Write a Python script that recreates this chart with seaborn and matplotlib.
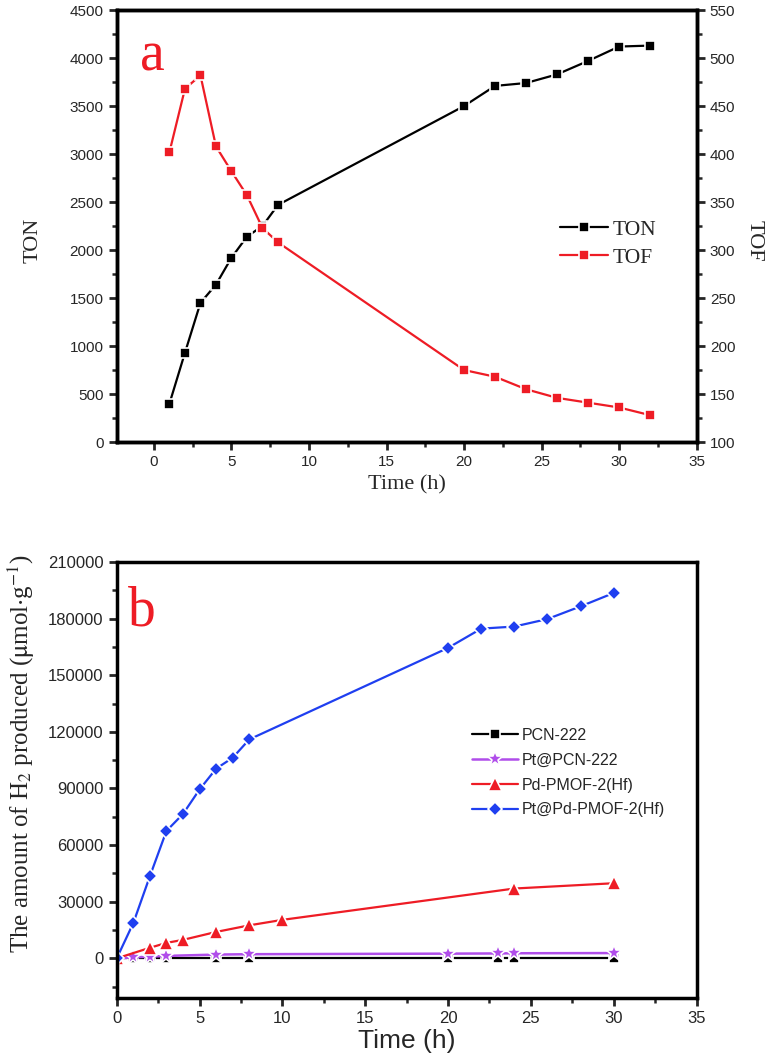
import numpy as np
import matplotlib
matplotlib.use("Agg")
import matplotlib.pyplot as plt
import seaborn as sns
from matplotlib.ticker import MultipleLocator

# panel a data
time_a = [1, 2, 3, 4, 5, 6, 7, 8, 20, 22, 24, 26, 28, 30, 32]
ton = [400, 930, 1450, 1640, 1920, 2140, 2250, 2470, 3500, 3710, 3740, 3830, 3970, 4120, 4130]
tof = [402, 468, 482, 408, 382, 357, 323, 308, 175, 168, 155, 146, 141, 136, 128]

# panel b data
time_pcn = [0, 1, 2, 3, 6, 8, 20, 23, 24, 30]
pcn222 = [0, 0, 0, 0, 0, 0, 0, 0, 0, 0]
pt_pcn222 = [0, 500, 900, 1300, 2000, 2200, 2500, 2600, 2700, 2800]
time_pd = [0, 2, 3, 4, 6, 8, 10, 24, 30]
pd_pmof = [0, 5600, 8200, 9800, 14000, 17500, 20400, 37000, 39800]
time_ptpd = [0, 1, 2, 3, 4, 5, 6, 7, 8, 20, 22, 24, 26, 28, 30]
pt_pd_pmof = [0, 18700, 43500, 67500, 76500, 89500, 100500, 106300, 116000,
              164500, 174700, 175800, 179800, 186500, 193600]

sns.set_style("ticks")
plt.rcParams['font.family'] = ['Liberation Sans', 'DejaVu Sans']
plt.rcParams['mathtext.fontset'] = 'stix'

fig = plt.figure(figsize=(7.68, 10.6), dpi=100)
ax1 = fig.add_axes([0.152, 0.583, 0.755, 0.4075])
ax2 = fig.add_axes([0.152, 0.0585, 0.755, 0.4113])


def style_axis(ax, size):
    for sp in ax.spines.values():
        sp.set_linewidth(2.5)
        sp.set_color("black")
    ax.tick_params(which="major", direction="out", length=6, width=2, labelsize=size)
    ax.tick_params(which="minor", direction="out", length=3.5, width=1.8)


# white marker edge gives the small gap between line and marker
mk = dict(markeredgecolor="white", markeredgewidth=1.2)

# ---- panel a ----
sns.lineplot(x=time_a, y=ton, ax=ax1, color="black", marker="s", markersize=7.5,
             linewidth=1.6, label="TON", legend=False, **mk)
ax1r = ax1.twinx()
sns.lineplot(x=time_a, y=tof, ax=ax1r, color="#ee1c25", marker="s", markersize=7.5,
             linewidth=1.6, label="TOF", legend=False, **mk)

ax1.set_xlim(-2.4, 35)
ax1.set_ylim(0, 4500)
ax1r.set_ylim(100, 550)
ax1.xaxis.set_major_locator(MultipleLocator(5))
ax1.xaxis.set_minor_locator(MultipleLocator(2.5))
ax1.yaxis.set_major_locator(MultipleLocator(500))
ax1.yaxis.set_minor_locator(MultipleLocator(250))
ax1r.yaxis.set_major_locator(MultipleLocator(50))
ax1r.yaxis.set_minor_locator(MultipleLocator(25))
style_axis(ax1, 11)
style_axis(ax1r, 11)
ax1.set_xlabel("Time (h)", family="Liberation Serif", fontsize=16, labelpad=4)
ax1.set_ylabel("TON", family="Liberation Serif", fontsize=16)
ax1.yaxis.set_label_coords(-0.128, 0.466)
ax1r.set_ylabel("TOF", family="Liberation Serif", fontsize=16, rotation=270, va="center")
ax1r.yaxis.set_label_coords(1.10, 0.466)
ax1.text(0.04, 0.86, "a", transform=ax1.transAxes, color="#ee1c25",
         family="Liberation Serif", fontsize=40, va="baseline")

h1, l1 = ax1.get_legend_handles_labels()
h2, l2 = ax1r.get_legend_handles_labels()
ax1r.legend(h1 + h2, l1 + l2, loc="center left", bbox_to_anchor=(0.765, 0.459),
            frameon=False, numpoints=1, handlelength=2.2, handletextpad=0.25,
            labelspacing=0.35, borderpad=0, borderaxespad=0,
            prop={"family": "Liberation Serif", "size": 15.5})

# ---- panel b ----
sns.lineplot(x=time_pcn, y=pcn222, ax=ax2, color="black", marker="s", markersize=7.5,
             linewidth=1.6, label="PCN-222", **mk)
sns.lineplot(x=time_pcn, y=pt_pcn222, ax=ax2, color="#b04dea", marker="*", markersize=12,
             linewidth=1.8, label="Pt@PCN-222", **mk)
sns.lineplot(x=time_pd, y=pd_pmof, ax=ax2, color="#ee1c25", marker="^", markersize=10,
             linewidth=1.6, label="Pd-PMOF-2(Hf)", **mk)
sns.lineplot(x=time_ptpd, y=pt_pd_pmof, ax=ax2, color="#1f3ff0", marker="D", markersize=7.5,
             linewidth=1.6, label="Pt@Pd-PMOF-2(Hf)", **mk)

ax2.set_xlim(0, 35)
ax2.set_ylim(-21000, 210000)
ax2.xaxis.set_major_locator(MultipleLocator(5))
ax2.xaxis.set_minor_locator(MultipleLocator(2.5))
ax2.yaxis.set_major_locator(MultipleLocator(30000))
ax2.yaxis.set_minor_locator(MultipleLocator(15000))
ax2.set_yticks(np.arange(0, 210001, 30000))
style_axis(ax2, 12)
ax2.set_xlabel("Time (h)", fontsize=19, labelpad=2)
ax2.set_ylabel(r"The amount of H$_2$ produced ($\mathrm{\mu}$mol$\cdot$g$^{-1}$)",
               family="Liberation Serif", fontsize=18)
ax2.yaxis.set_label_coords(-0.138, 0.56)
ax2.text(0.019, 0.855, "b", transform=ax2.transAxes, color="#ee1c25",
         family="Liberation Serif", fontsize=40, va="baseline")
ax2.legend(loc="center left", bbox_to_anchor=(0.612, 0.517), frameon=False, numpoints=1,
           handlelength=2.9, handletextpad=0.25, labelspacing=0.62, borderpad=0,
           borderaxespad=0, fontsize=11.5)

fig.savefig("out.png", dpi=100)
